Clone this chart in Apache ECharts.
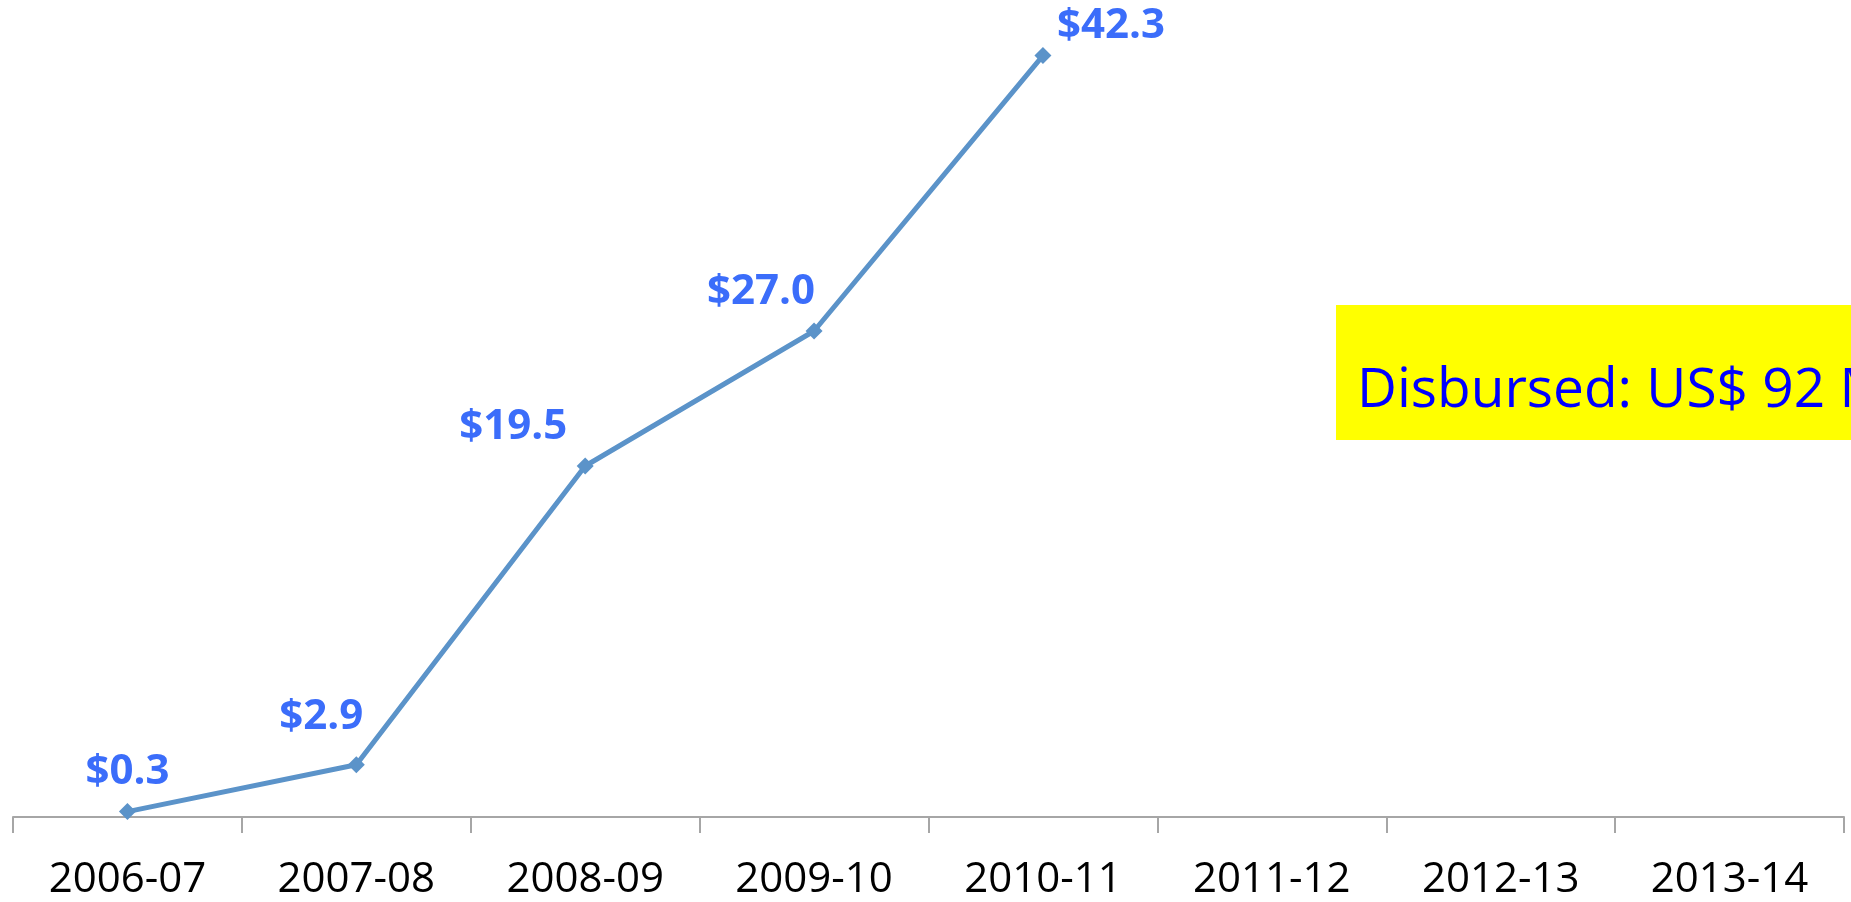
<!DOCTYPE html>
<html>
<head>
<meta charset="utf-8">
<script src="https://cdn.jsdelivr.net/npm/echarts@6/dist/echarts.min.js"></script>
<style>
html,body{margin:0;padding:0;background:#fff;}
#chart{width:1851px;height:902px;}
</style>
</head>
<body>
<div id="chart"></div>
<script>
const categories = ['2006-07','2007-08','2008-09','2009-10','2010-11','2011-12','2012-13','2013-14'];
const disbursed = [0.3, 2.9, 19.5, 27.0, 42.3, null, null, null];
const boxText = 'Disbursed: US$ 92 Million';

// label placement relative to each point (dx, dy in px)
const labelOffsets = [[0,-40],[-35,-48],[-72,-39],[-53,-39],[68,-30]];
const symSize = 17;

const chart = echarts.init(document.getElementById('chart'));
const seriesData = disbursed.map((v, i) => {
  if (v === null) return null;
  const off = labelOffsets[i] || [0,-40];
  return {
    value: v,
    label: { position: [symSize/2 + off[0], symSize/2 + off[1]] }
  };
});

chart.setOption({
  animation: false,
  grid: { left: 13, right: 7, top: 7, bottom: 85 },
  xAxis: {
    type: 'category',
    data: categories,
    boundaryGap: true,
    axisLine: { lineStyle: { color: '#a6a6a6', width: 2 } },
    axisTick: { show: true, length: 16, lineStyle: { color: '#a6a6a6', width: 2 } },
    axisLabel: { color: '#000', fontFamily: 'Open Sans', fontSize: 42, margin: 42 }
  },
  yAxis: {
    type: 'value', min: 0, max: 45, show: false, splitLine: { show: false }
  },
  series: [{
    type: 'line',
    data: seriesData,
    symbol: 'diamond',
    symbolSize: symSize,
    connectNulls: false,
    lineStyle: { color: '#5b93c9', width: 5 },
    itemStyle: { color: '#5b93c9' },
    label: {
      show: true,
      align: 'center',
      verticalAlign: 'middle',
      color: '#3b6dfa',
      fontFamily: 'Open Sans',
      fontWeight: 'bold',
      fontSize: 42,
      formatter: p => '$' + p.value.toFixed(1)
    }
  }],
  graphic: [{
    type: 'group',
    left: 1336,
    top: 305,
    children: [
      { type: 'rect', shape: { x: 0, y: 0, width: 600, height: 135 }, style: { fill: '#ffff00' } },
      { type: 'text', x: 21, y: 86, style: { text: boxText, fill: '#0000ff', fontFamily: 'Open Sans', fontSize: 55, verticalAlign: 'middle' } }
    ]
  }]
});
</script>
</body>
</html>
